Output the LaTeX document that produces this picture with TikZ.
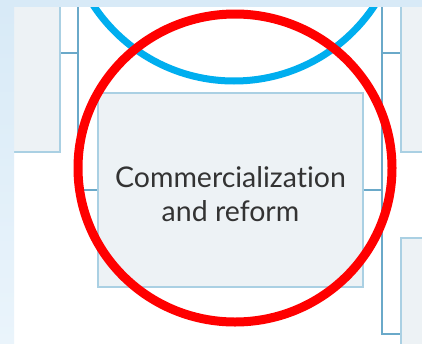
\documentclass[tikz,border=0pt]{standalone}
\usepackage{fontspec}
\setmainfont{Lato}[Ligatures={NoCommon,NoRare}]
\begin{document}
\begin{tikzpicture}[x=1pt,y=-1pt,
  box/.style={draw=boxline,fill=boxfill,line width=1.2pt,inner sep=0pt},
  conn/.style={draw=connline,line width=1.3pt},
  lbl/.style={text=textgray,align=center,font=\fontsize{28.5}{34}\selectfont}]
\definecolor{boxline}{HTML}{AAD0E3}
\definecolor{boxfill}{HTML}{EDF2F5}
\definecolor{connline}{HTML}{6AA9C9}
\definecolor{textgray}{HTML}{333333}
\definecolor{stripblue}{HTML}{D8EAF7}
\definecolor{stripblue2}{HTML}{EAF4FB}
\definecolor{cyanring}{HTML}{00AEEF}
\definecolor{redring}{HTML}{FF0000}
\useasboundingbox (0,0) rectangle (422,343);
\fill[white] (0,0) rectangle (422,343);
\begin{scope}
\clip (0,0) rectangle (422,343);
% boxes
\node[box,minimum width=54pt,minimum height=160pt] (lbox) at (33,72) {};
\node[box,minimum width=30pt,minimum height=160pt] (rbox) at (416,72) {};
\node[box,minimum width=30pt,minimum height=120pt] (rbox2) at (416,298) {};
\node[box,minimum width=265pt,minimum height=194pt] (main) at (230.5,190) {};
\node[lbl] (mainlabel) at (230.5,194) {Commercialization\\and reform};
% connectors
\coordinate (ltop) at (78,0);
\coordinate (lj) at (78,53);
\coordinate (rtop) at (382,0);
\coordinate (rj) at (382,53);
\coordinate (rbend) at (382,334);
\draw[conn] (ltop) |- (main.west);
\draw[conn] (lj) -- (lj -| lbox.east);
\draw[conn] (main.east) -- (main.east -| rtop);
\draw[conn] (rtop) -- (rbend) -- (rbend -| rbox2.west);
\draw[conn] (rj) -- (rj -| rbox.west);
% rings
\draw[cyanring,line width=7pt] (234,-87.5) circle (168.5pt);
\draw[redring,line width=9pt] (235,168) ellipse [x radius=157pt,y radius=154pt];
% strips
\fill[stripblue] (0,0) rectangle (422,7);
\shade[top color=stripblue,bottom color=stripblue2] (0,7) rectangle (14,343);
\end{scope}
\end{tikzpicture}
\end{document}
